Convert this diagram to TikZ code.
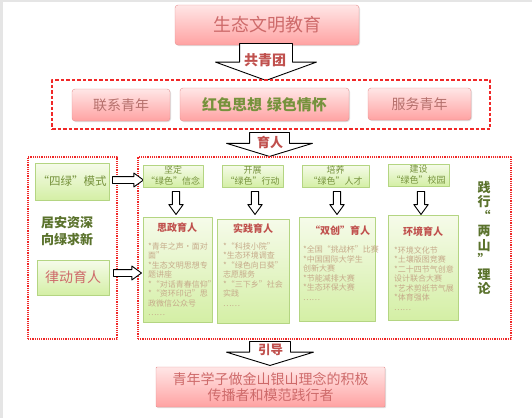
\documentclass[tikz,border=0pt]{standalone}
\usepackage{fontspec}
\setmainfont{Noto Sans CJK SC}
\usetikzlibrary{shapes.arrows,shadows}
\definecolor{pinkline}{RGB}{229,145,145}
\definecolor{pinktop}{RGB}{255,230,230}
\definecolor{pinkbot}{RGB}{255,162,162}
\definecolor{greenline}{RGB}{180,213,130}
\definecolor{greentop}{RGB}{246,251,234}
\definecolor{greenbot}{RGB}{212,239,165}
\definecolor{redtxt}{RGB}{192,80,77}
\definecolor{pinktxt}{RGB}{206,106,106}
\definecolor{rosetxt}{RGB}{181,112,108}
\definecolor{olivetxt}{RGB}{118,146,60}
\definecolor{darkolive}{RGB}{90,114,44}
\definecolor{tantxt}{RGB}{198,170,138}
\definecolor{framered}{RGB}{240,40,40}
\begin{document}
\begin{tikzpicture}[x=1pt, y=-1pt, line join=round,
  pinkbox/.style={draw=pinkline, rounded corners=3pt, top color=pinktop, bottom color=pinkbot,
    drop shadow={opacity=0.25, shadow xshift=1pt, shadow yshift=-1pt}, inner sep=0pt, align=center},
  greenbox/.style={draw=greenline, top color=greentop, bottom color=greenbot,
    drop shadow={opacity=0.2, shadow xshift=1pt, shadow yshift=-1pt}, inner sep=0pt, align=center},
  titlebox/.style={greenbox, minimum height=22pt, font=\fontsize{9}{11}\selectfont, text=olivetxt},
  bigbox/.style={greenbox, minimum height=105pt},
  boxtitle/.style={font=\bfseries\fontsize{10}{10}\selectfont, text=redtxt},
  items/.style={anchor=north west, inner sep=0pt, align=left, font=\fontsize{8}{9.5}\selectfont, text=tantxt},
  dashframe/.style={draw=framered, line width=1.1pt, dash pattern=on 3.5pt off 2pt},
  dotframe/.style={draw=framered, line width=1.2pt, dash pattern=on 1.2pt off 1pt},
  hollowarrow/.style={single arrow, draw=black, fill=white, line width=0.9pt, inner xsep=0pt,
    single arrow head indent=0pt, anchor=tail},
  arrowlabel/.style={font=\bfseries\fontsize{13}{13}\selectfont, text=redtxt}]
\useasboundingbox (0,0) rectangle (532,418);
\fill[black!10] (0,0) rectangle (3,418);
\fill[black!10] (0,0) rectangle (532,2);

% top
\node[pinkbox, minimum width=184pt, minimum height=40pt, font=\fontsize{18}{18}\selectfont, text=pinktxt] (edu) at (267,25) {生态文明教育};
\node[hollowarrow, rotate=-90, minimum height=37pt, inner ysep=26pt, single arrow head extend=24pt, single arrow tip angle=140] (gqtarrow) at (266,43) {};
\node[arrowlabel, font=\bfseries\fontsize{14}{14}\selectfont] (gqt) at (265,60) {共青团};

% youth frame
\node[dashframe, minimum width=438pt, minimum height=49pt] (youth) at (271,104.5) {};
\node[pinkbox, minimum width=98pt, minimum height=32pt, font=\fontsize{14}{14}\selectfont, text=rosetxt] (lianxi) at (121,105) {联系青年};
\node[pinkbox, minimum width=169pt, minimum height=33pt, font=\bfseries\fontsize{15}{15}\selectfont, text=olivetxt] (hongse) at (264.5,104.5) {红色思想\hspace{5pt}绿色情怀};
\node[pinkbox, minimum width=103pt, minimum height=32pt, font=\fontsize{14}{14}\selectfont, text=rosetxt] (fuwu) at (419.5,104) {服务青年};
\node[hollowarrow, rotate=-90, minimum height=24pt, inner ysep=19.5pt, single arrow head extend=23pt, single arrow tip angle=146] (yrarrow) at (269.5,132) {};
\node[arrowlabel] (yr) at (270,142) {育人};

% frames
\node[dotframe, minimum width=89pt, minimum height=182pt] (leftframe) at (72.5,248) {};
\node[dotframe, minimum width=373pt, minimum height=182pt] (rightframe) at (324.5,248) {};

% left part
\node[greenbox, minimum width=74pt, minimum height=37pt, font=\fontsize{11.5}{11.5}\selectfont, text=olivetxt] (silv) at (72,181.5) {“四绿”模式};
\node[font=\bfseries\fontsize{13}{17}\selectfont, text=darkolive, align=center] (juan) at (67,231) {居安资深\\向绿求新};
\node[greenbox, minimum width=72pt, minimum height=35pt, font=\fontsize{14}{14}\selectfont, text=pinktxt] (lvdong) at (73,277.5) {律动育人};
\node[hollowarrow, minimum height=31pt, inner ysep=3pt, single arrow head extend=3.5pt, single arrow tip angle=72] (silvarrow) at (112,180) {};
\node[hollowarrow, minimum height=28pt, inner ysep=3pt, single arrow head extend=3.5pt, single arrow tip angle=72] (lvdongarrow) at (113,273) {};

% titles
\node[titlebox, minimum width=60pt] (jianding) at (173,176) {坚定\\“绿色”信念};
\node[titlebox, minimum width=61pt] (kaizhan) at (252.5,176) {开展\\“绿色”行动};
\node[titlebox, minimum width=67pt] (peiyang) at (335.5,176) {培养\\“绿色”人才};
\node[titlebox, minimum width=61pt] (jianshe) at (418.5,175) {建设\\“绿色”校园};
\foreach \x in {176,255,337,421}
  \node[hollowarrow, rotate=-90, minimum height=23pt, inner ysep=3.2pt, single arrow head extend=3.5pt, single arrow tip angle=72] (down\x) at (\x,191) {};

% big boxes
\node[bigbox, minimum width=69pt] (sizheng) at (177.5,269.5) {};
\node[boxtitle] (sizhengt) at (177,228) {思政育人};
\node[items] (sizhengl) at (148,242.5) {*青年之声·面对\\面”\\*生态文明思想专\\题讲座\\*“对话青春信仰”\\*“资环印记”思\\政微信公众号\\……};

\node[bigbox, minimum width=72pt, minimum height=104pt] (shijian) at (253,271) {};
\node[boxtitle] (shijiant) at (253,229) {实践育人};
\node[items] (shijianl) at (223,242.5) {*“科技小院”\\*生态环境调查\\*“绿色向日葵”\\志愿服务\\*“三下乡”社会\\实践\\……};

\node[bigbox, minimum width=76pt, minimum height=104pt] (shuangchuang) at (337,269) {};
\node[boxtitle] (shuangchuangt) at (340,231) {“双创”育人};
\node[items] (shuangchuangl) at (303,245.5) {*全国“挑战杯”比赛\\*中国国际大学生\\创新大赛\\*节能减排大赛\\*生态环保大赛\\……};

\node[bigbox, minimum width=70pt] (huanjing) at (423,267.5) {};
\node[boxtitle] (huanjingt) at (423,232) {环境育人};
\node[items] (huanjingl) at (394,246.5) {*环境文化节\\*土壤版图竞赛\\*二十四节气创意\\设计联合大赛\\*艺术剪纸节气展\\*体育强体\\……};

\node[font=\bfseries\fontsize{13}{14.5}\selectfont, text=darkolive, align=center] (lianshan) at (484,238) {践\\行\\“\\两\\山\\”\\理\\论};

% bottom
\node[hollowarrow, rotate=-90, minimum height=24pt, inner ysep=20pt, single arrow head extend=23pt, single arrow tip angle=146] (ydarrow) at (270,341) {};
\node[arrowlabel, font=\bfseries\fontsize{12.5}{12.5}\selectfont] (yd) at (270.5,350) {引导};
\node[pinkbox, rounded corners=1pt, minimum width=229pt, minimum height=40pt, font=\fontsize{14}{16}\selectfont, text=pinktxt] (goal) at (270.5,387) {青年学子做金山银山理念的积极\\传播者和模范践行者};
\end{tikzpicture}
\end{document}
